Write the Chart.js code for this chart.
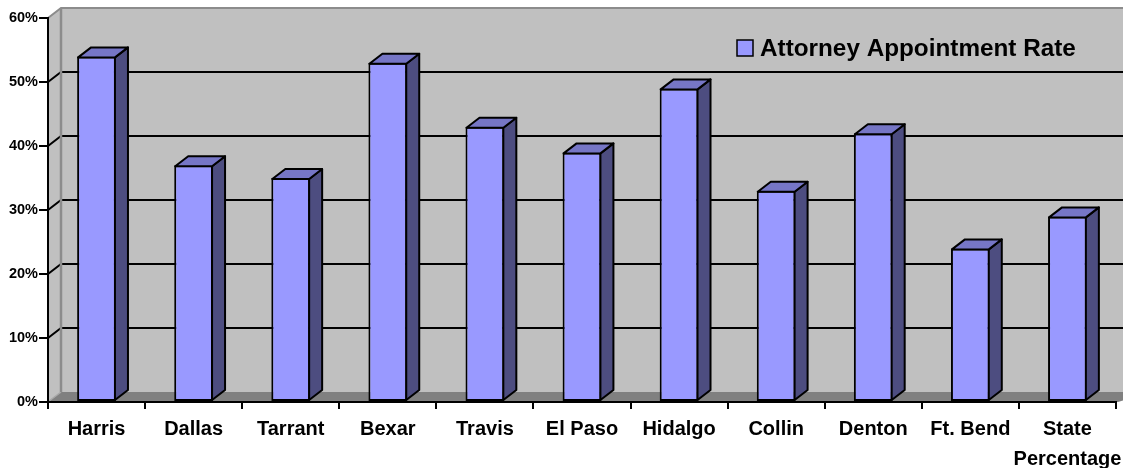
<!DOCTYPE html>
<html>
<head>
<meta charset="utf-8">
<title>Attorney Appointment Rate</title>
<script src="https://cdn.jsdelivr.net/npm/chart.js@4/dist/chart.umd.min.js"></script>
<style>
  html, body { margin: 0; padding: 0; background: #ffffff; }
  #wrap { width: 1123px; height: 468px; position: relative; }
</style>
</head>
<body>
<div id="wrap"><canvas id="chart"></canvas></div>
<script>
// Counties (last entry is the statewide figure, split over two lines)
const categories = ['Harris', 'Dallas', 'Tarrant', 'Bexar', 'Travis', 'El Paso',
  'Hidalgo', 'Collin', 'Denton', 'Ft. Bend', ['State', 'Percentage']];
// Attorney appointment rate, in percent
const appointmentRate = [54, 37, 35, 53, 43, 39, 49, 33, 42, 24, 29];
// Value axis range and step, in percent
const yMin = 0;
const yMax = 60;
const yStep = 10;
const seriesName = 'Attorney Appointment Rate';

const FONT = '"Liberation Sans", Arial, Helvetica, sans-serif';

// Depth offset of the 3-D box (back plane relative to front plane)
const DX = 13, DY = -10;

const COLORS = {
  wall: '#c0c0c0',
  floor: '#808080',
  edge: '#8c8c8c',
  front: '#9999ff',
  side: '#4d4d80',
  top: '#7676c6'
};

const box3d = {
  id: 'box3d',
  beforeDraw(chart) {
    const ctx = chart.ctx;
    const { left, right, top, bottom } = chart.chartArea;
    const y = chart.scales.y;
    ctx.save();
    // back wall
    ctx.fillStyle = COLORS.wall;
    ctx.fillRect(left + DX, top + DY, right - left + 20, bottom - top);
    // left side wall
    ctx.beginPath();
    ctx.moveTo(left, top);
    ctx.lineTo(left + DX, top + DY);
    ctx.lineTo(left + DX, bottom + DY);
    ctx.lineTo(left, bottom);
    ctx.closePath();
    ctx.fill();
    // floor
    ctx.fillStyle = COLORS.floor;
    ctx.beginPath();
    ctx.moveTo(left, bottom);
    ctx.lineTo(left + DX, bottom + DY);
    ctx.lineTo(right + DX + 20, bottom + DY);
    ctx.lineTo(right + 2, bottom);
    ctx.closePath();
    ctx.fill();
    // floor edge towards the left wall
    ctx.strokeStyle = '#a8a8a8';
    ctx.lineWidth = 1.5;
    ctx.beginPath();
    ctx.moveTo(left + 1, bottom - 1);
    ctx.lineTo(left + DX, bottom + DY);
    ctx.stroke();

    // gridlines across the left wall and the back wall
    ctx.lineCap = 'butt';
    y.ticks.forEach(t => {
      if (t.value === yMin) return;
      const py = y.getPixelForValue(t.value);
      ctx.strokeStyle = t.value === yMax ? COLORS.edge : '#000000';
      ctx.lineWidth = 2;
      ctx.beginPath();
      ctx.moveTo(left, py);
      ctx.lineTo(left + DX, py + DY);
      ctx.lineTo(right + DX + 20, py + DY);
      ctx.stroke();
    });
    // corner edge between side wall and back wall
    ctx.strokeStyle = COLORS.edge;
    ctx.lineWidth = 2.5;
    ctx.beginPath();
    ctx.moveTo(left + DX, top + DY);
    ctx.lineTo(left + DX, bottom + DY);
    ctx.stroke();
    ctx.restore();
  },
  afterDatasetsDraw(chart) {
    const ctx = chart.ctx;
    const meta = chart.getDatasetMeta(0);
    ctx.save();
    ctx.lineWidth = 2;
    ctx.lineJoin = 'round';
    ctx.strokeStyle = '#000000';
    meta.data.forEach(bar => {
      const { x, y, base, width } = bar.getProps(['x', 'y', 'base', 'width'], true);
      const l = x - width / 2 + 1;
      const r = x + width / 2 - 1;
      const t = y + 1;
      const b = base - 1;
      // right-hand face
      ctx.fillStyle = COLORS.side;
      ctx.beginPath();
      ctx.moveTo(r, t);
      ctx.lineTo(r + DX, t + DY);
      ctx.lineTo(r + DX, b + DY);
      ctx.lineTo(r, b);
      ctx.closePath();
      ctx.fill();
      ctx.stroke();
      // top face
      ctx.fillStyle = COLORS.top;
      ctx.beginPath();
      ctx.moveTo(l, t);
      ctx.lineTo(l + DX, t + DY);
      ctx.lineTo(r + DX, t + DY);
      ctx.lineTo(r, t);
      ctx.closePath();
      ctx.fill();
      ctx.stroke();
    });
    ctx.restore();
  },
  afterDraw(chart) {
    // series key inside the plot, upper right
    const ctx = chart.ctx;
    ctx.save();
    ctx.fillStyle = COLORS.front;
    ctx.fillRect(737, 40, 16, 16);
    ctx.strokeStyle = '#000000';
    ctx.lineWidth = 1.5;
    ctx.strokeRect(737, 40, 16, 16);
    ctx.fillStyle = '#000000';
    ctx.font = 'bold 24.3px ' + FONT;
    ctx.textAlign = 'left';
    ctx.textBaseline = 'alphabetic';
    ctx.fillText(seriesName, 760, 56);
    ctx.restore();
  }
};

new Chart(document.getElementById('chart'), {
  type: 'bar',
  data: {
    labels: categories,
    datasets: [{
      label: seriesName,
      data: appointmentRate,
      backgroundColor: COLORS.front,
      borderColor: '#000000',
      borderWidth: 2,
      borderSkipped: false,
      barPercentage: 0.40,
      categoryPercentage: 1.0
    }]
  },
  options: {
    responsive: true,
    maintainAspectRatio: false,
    animation: false,
    events: [],
    layout: { padding: { top: 18, right: 7, left: 0, bottom: 0 } },
    plugins: {
      legend: { display: false },
      tooltip: { enabled: false }
    },
    scales: {
      x: {
        offset: true,
        grid: {
          offset: true,
          drawOnChartArea: false,
          drawTicks: true,
          tickLength: 7,
          tickColor: '#000000',
          tickWidth: 2,
          lineWidth: 2,
          color: '#000000'
        },
        border: { display: true, color: '#000000', width: 2 },
        ticks: {
          color: '#000000',
          font: { family: FONT, size: 20, weight: 'bold', lineHeight: 1.5 },
          padding: 5,
          maxRotation: 0,
          minRotation: 0,
          autoSkip: false
        },
        afterFit(scale) {
          scale.height = 66;
          // let the last two-line label run into the right margin
          scale.paddingLeft = 0;
          scale.paddingRight = 0;
        }
      },
      y: {
        min: yMin,
        max: yMax,
        grid: {
          drawOnChartArea: false,
          drawTicks: true,
          tickLength: 9,
          tickColor: '#000000',
          tickWidth: 2,
          lineWidth: 2,
          color: '#000000'
        },
        border: { display: true, color: '#000000', width: 2 },
        ticks: {
          stepSize: yStep,
          color: '#000000',
          padding: 1,
          font: { family: FONT, size: 14.5, weight: 'bold' },
          callback: v => v + '%'
        },
        afterFit(scale) { scale.width = 48; }
      }
    }
  },
  plugins: [box3d]
});
</script>
</body>
</html>
